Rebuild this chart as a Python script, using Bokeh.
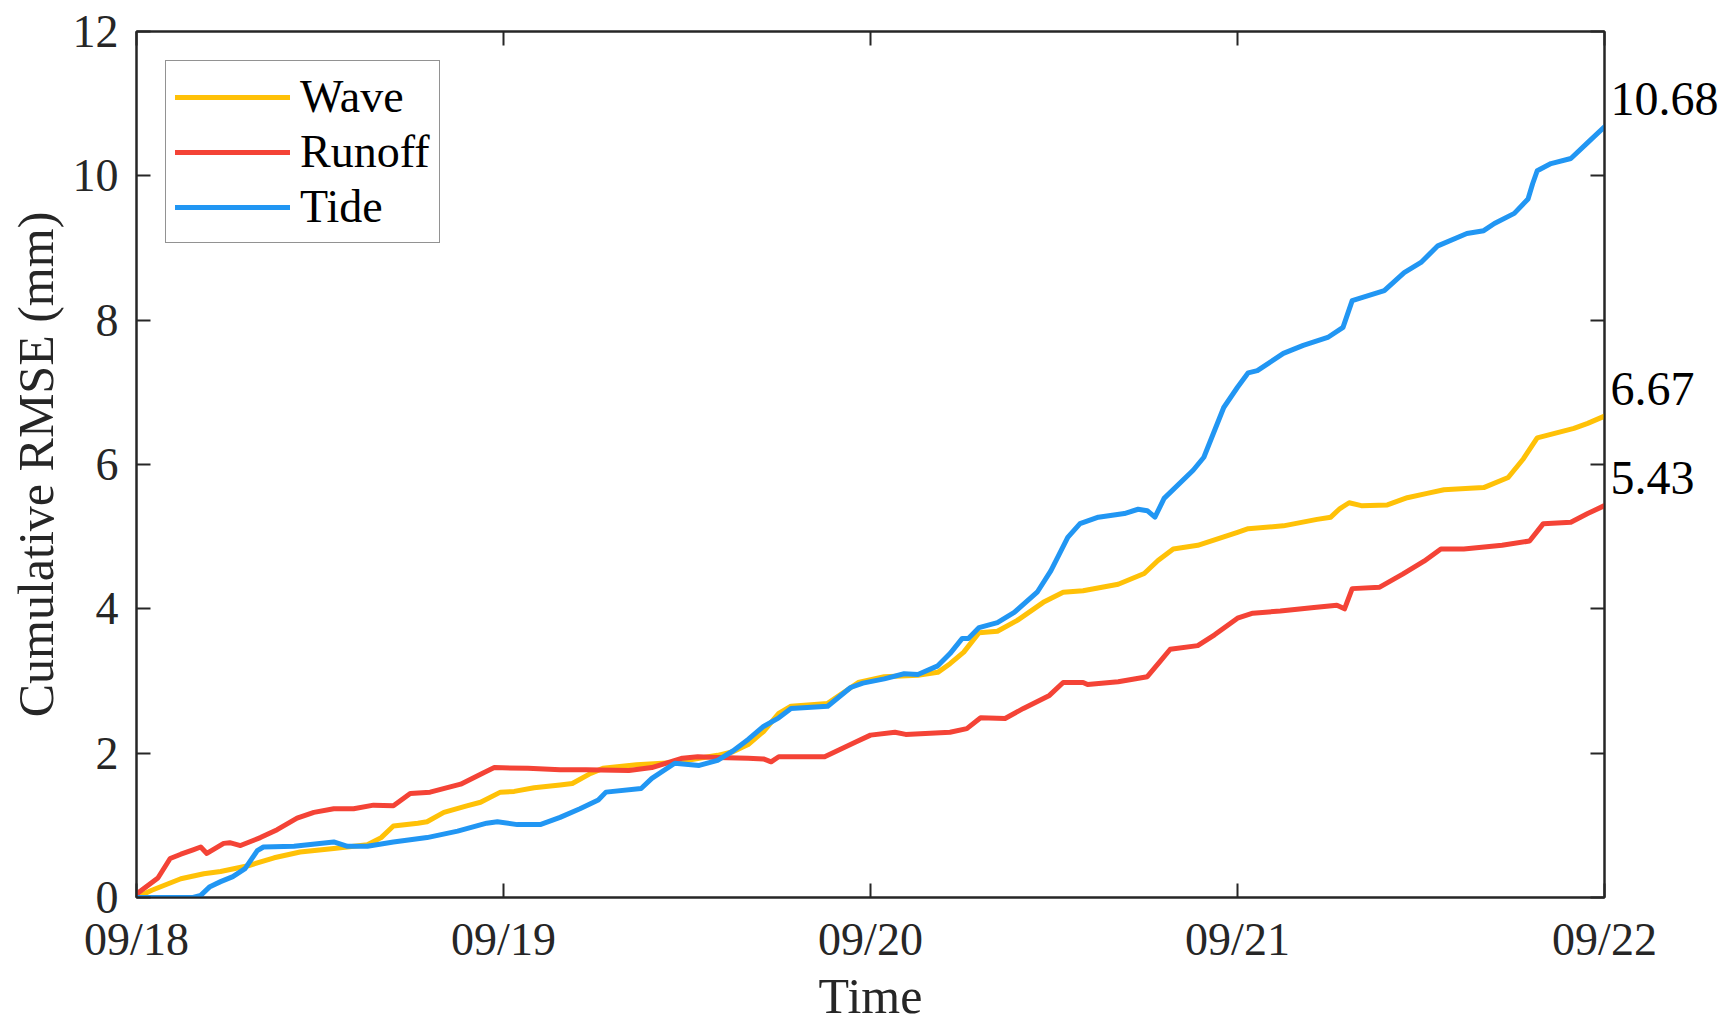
from bokeh.plotting import figure
from bokeh.models import Legend, LegendItem, LinearAxis, FixedTicker, Range1d
from bokeh.embed import file_html
from bokeh.resources import INLINE

# ---- data (hours since 09/18 00:00, cumulative RMSE in mm) ----
wave_h = [0, 1, 2.9, 4.4, 5.5, 7.3, 9.0, 10.7, 12.9, 15.1, 16.0, 16.8, 18.4, 19.0, 20.1, 21.6, 22.5,
          23.8, 24.7, 26.0, 27.7, 28.5, 29.7, 30.5, 32.7, 35.2, 36.8, 38, 39, 40, 41, 42, 42.8, 45.2,
          47.2, 48.9, 51.1, 52.4, 53.2, 54.1, 55.1, 56.3, 57.6, 59.3, 60.6, 61.9, 64.2, 65.9, 66.8,
          67.8, 69.4, 72.0, 72.7, 75.0, 77.2, 78.1, 78.7, 79.3, 80.1, 81.8, 83.1, 84.4, 85.5, 87.2,
          88.1, 89.7, 90.7, 91.6, 94.0, 94.9, 96]
wave_v = [0, 0.1, 0.26, 0.33, 0.36, 0.44, 0.55, 0.63, 0.68, 0.73, 0.83, 0.99, 1.03, 1.05, 1.18, 1.27,
          1.32, 1.46, 1.47, 1.52, 1.56, 1.58, 1.72, 1.79, 1.84, 1.87, 1.93, 1.97, 2.02, 2.12, 2.3, 2.55,
          2.65, 2.69, 2.98, 3.06, 3.08, 3.12, 3.24, 3.4, 3.67, 3.69, 3.84, 4.09, 4.23, 4.25, 4.34, 4.49,
          4.67, 4.83, 4.88, 5.06, 5.11, 5.15, 5.24, 5.27, 5.39, 5.47, 5.43, 5.44, 5.54, 5.6, 5.65, 5.67,
          5.68, 5.82, 6.08, 6.37, 6.5, 6.57, 6.67]

runoff_h = [0, 1.4, 2.2, 2.9, 3.7, 4.2, 4.6, 5.7, 6.1, 6.8, 8.1, 9.2, 10.5, 11.6, 12.9, 14.2, 15.5,
            16.8, 17.9, 19.2, 21.2, 22.7, 23.4, 25.6, 27.7, 29.4, 32.2, 33.7, 35.7, 36.7, 38, 40, 41,
            41.5, 42, 45, 46, 47, 48, 49.6, 50.3, 53.2, 54.3, 55.2, 56.8, 58.0, 59.7, 60.6, 61.9, 62.2,
            64.2, 66.1, 66.9, 67.6, 69.4, 70.5, 72, 73, 74.8, 77, 78.5, 79, 79.5, 81.3, 82.8, 84.2, 85.3,
            86.8, 89.3, 91.1, 92.0, 93.8, 94.9, 96]
runoff_v = [0.05, 0.27, 0.54, 0.6, 0.66, 0.7, 0.61, 0.75, 0.76, 0.72, 0.83, 0.94, 1.1, 1.18, 1.23, 1.23,
            1.28, 1.27, 1.44, 1.46, 1.57, 1.73, 1.8, 1.79, 1.77, 1.77, 1.76, 1.8, 1.93, 1.95, 1.94, 1.93,
            1.92, 1.88, 1.95, 1.95, 2.05, 2.15, 2.25, 2.29, 2.26, 2.29, 2.34, 2.49, 2.48, 2.62, 2.8, 2.98,
            2.98, 2.95, 2.99, 3.06, 3.26, 3.44, 3.49, 3.64, 3.87, 3.94, 3.97, 4.02, 4.05, 4.0, 4.28, 4.3,
            4.48, 4.66, 4.83, 4.83, 4.88, 4.94, 5.18, 5.2, 5.32, 5.43]

tide_h = [0, 3.7, 4.2, 4.8, 5.5, 6.3, 7.1, 7.9, 8.3, 10.3, 12.9, 13.8, 15.1, 16.8, 19.0, 21.0, 22.9,
          23.6, 24.9, 26.4, 27.7, 29.0, 30.2, 30.7, 33.0, 33.7, 35.2, 36.8, 38, 39, 40, 41, 42, 42.8,
          45.2, 46.7, 47.5, 48.9, 50.2, 51.1, 52.4, 53.2, 54.0, 54.4, 55.1, 56.3, 57.4, 58.9, 59.8,
          60.9, 61.7, 62.9, 64.6, 65.5, 66.1, 66.6, 67.2, 69.1, 69.8, 71.1, 72.0, 72.7, 73.3, 75.0,
          76.3, 77.9, 78.9, 79.5, 81.6, 82.9, 84.0, 85.1, 87.0, 88.1, 88.8, 90.1, 91.0, 91.3, 91.6,
          92.5, 93.8, 94.9, 96]
tide_v = [0, 0, 0.03, 0.15, 0.22, 0.29, 0.4, 0.65, 0.7, 0.71, 0.77, 0.71, 0.71, 0.77, 0.83, 0.92, 1.03,
          1.05, 1.01, 1.01, 1.11, 1.23, 1.35, 1.46, 1.51, 1.65, 1.86, 1.83, 1.9, 2.03, 2.19, 2.37, 2.49,
          2.62, 2.65, 2.91, 2.97, 3.03, 3.1, 3.09, 3.21, 3.38, 3.59, 3.59, 3.74, 3.81, 3.95, 4.23, 4.53,
          4.99, 5.18, 5.27, 5.32, 5.38, 5.36, 5.27, 5.53, 5.92, 6.1, 6.79, 7.07, 7.27, 7.3, 7.54, 7.65,
          7.76, 7.9, 8.27, 8.41, 8.66, 8.8, 9.03, 9.2, 9.24, 9.34, 9.48, 9.68, 9.89, 10.07, 10.17,
          10.24, 10.46, 10.68]

day_ticks = [0, 24, 48, 72, 96]
day_labels = ["09/18", "09/19", "09/20", "09/21", "09/22"]
y_ticks = [0, 2, 4, 6, 8, 10, 12]

series = [("Wave", wave_h, wave_v, "#FFC107"),
          ("Runoff", runoff_h, runoff_v, "#F44336"),
          ("Tide", tide_h, tide_v, "#2196F3")]

FONT = "Liberation Serif"
AX = "#262626"
END_LABEL_LIFT = 0.38   # end-value labels sit just above each line's end

p = figure(width=1726, height=1028, output_backend="svg", toolbar_location=None,
           x_range=Range1d(0, 96), y_range=Range1d(0, 12),
           min_border_left=136, min_border_right=122, min_border_top=31, min_border_bottom=131)
p.grid.visible = False
p.outline_line_color = AX
p.outline_line_width = 2
p.background_fill_color = "white"
p.border_fill_color = "white"

p.xaxis.ticker = FixedTicker(ticks=day_ticks)
p.xaxis.major_label_overrides = {t: l for t, l in zip(day_ticks, day_labels)}
p.yaxis.ticker = FixedTicker(ticks=y_ticks)
p.xaxis.axis_label = "Time"
p.yaxis.axis_label = "Cumulative RMSE (mm)"

for ax in (p.xaxis[0], p.yaxis[0]):
    ax.axis_line_color = AX
    ax.axis_line_width = 2
    ax.major_tick_line_color = AX
    ax.major_tick_line_width = 2
    ax.major_tick_in = 14
    ax.major_tick_out = 0
    ax.minor_tick_line_color = None
    ax.major_label_text_font = FONT
    ax.major_label_text_font_size = "46px"
    ax.major_label_text_color = AX
    ax.axis_label_text_font = FONT
    ax.axis_label_text_font_size = "50px"
    ax.axis_label_text_font_style = "normal"
    ax.axis_label_text_color = AX
p.xaxis.major_label_standoff = 16
p.xaxis.axis_label_standoff = 0
p.yaxis.major_label_standoff = 18
p.yaxis.axis_label_standoff = 6

# mirrored box ticks on top
top = LinearAxis(ticker=FixedTicker(ticks=day_ticks), major_label_overrides={t: "" for t in day_ticks})
top.axis_line_color = AX
top.axis_line_width = 2
top.major_tick_line_color = AX
top.major_tick_line_width = 2
top.major_tick_in = 14
top.major_tick_out = 0
top.minor_tick_line_color = None
top.major_label_text_font_size = "1px"
top.major_label_standoff = 0
p.add_layout(top, "above")

# right side: mirrored ticks (minor) + end-value labels (major, no tick marks)
end_pos = [round(vv[-1] + END_LABEL_LIFT, 3) for _, _, vv, _ in series]
end_txt = {pos: f"{vv[-1]:.2f}" for pos, (_, _, vv, _) in zip(end_pos, series)}
right = LinearAxis(ticker=FixedTicker(ticks=end_pos, minor_ticks=y_ticks),
                   major_label_overrides=end_txt)
right.axis_line_color = AX
right.axis_line_width = 2
right.major_tick_line_color = None
right.minor_tick_line_color = AX
right.minor_tick_line_width = 2
right.minor_tick_in = 14
right.minor_tick_out = 0
right.major_label_standoff = 0
right.major_label_text_font = FONT
right.major_label_text_font_size = "48px"
right.major_label_text_color = "black"
p.add_layout(right, "right")

items = []
for name, hh, vv, col in series:
    r = p.line(hh, vv, line_color=col, line_width=5, line_join="round", line_cap="round")
    items.append(LegendItem(label=name, renderers=[r]))

legend = Legend(items=items, location="top_left", margin=29, padding=9, spacing=2,
                glyph_width=115, glyph_height=20, label_standoff=10,
                label_text_font=FONT, label_text_font_size="46px", label_text_color="black",
                border_line_color=AX, border_line_width=1.5, background_fill_alpha=1)
p.add_layout(legend, "center")

open("out.html", "w").write(file_html(p, INLINE))
